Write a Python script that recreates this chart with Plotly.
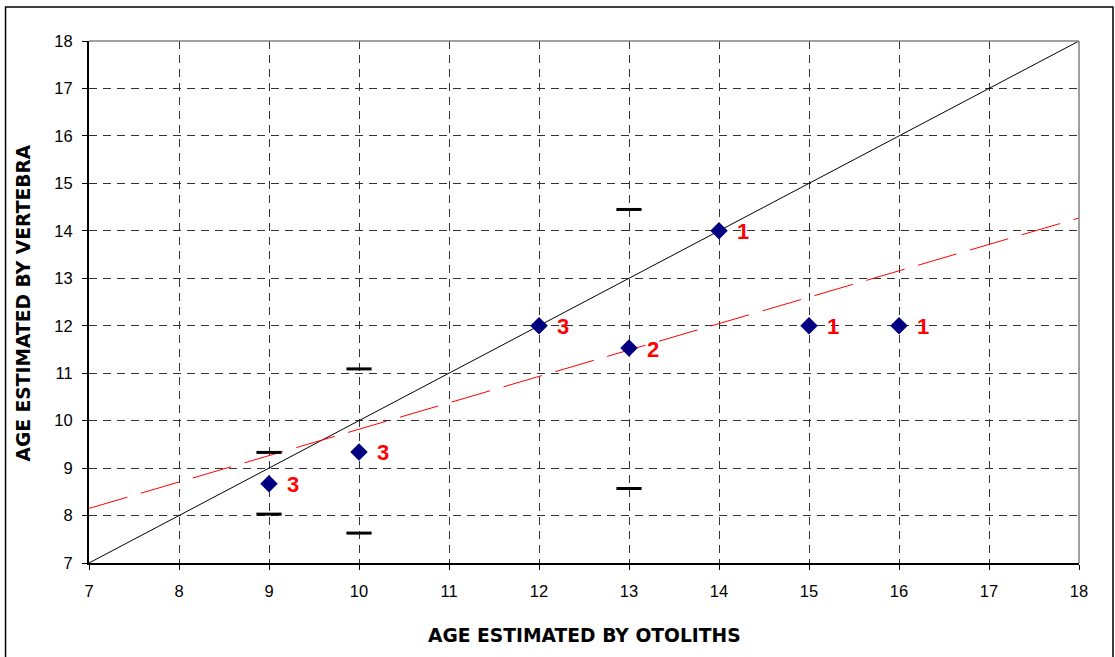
import plotly.graph_objects as go

# Data
oto_age = [9, 10, 12, 13, 14, 15, 16]
vert_age = [8.67, 9.34, 12.0, 11.53, 14.0, 12.0, 12.0]
n_labels = ["3", "3", "3", "2", "1", "1", "1"]

cap_x = [9, 9, 10, 10, 13, 13]
cap_y = [9.33, 8.03, 11.09, 7.63, 14.45, 8.57]

ident_x = [7, 18]
ident_y = [7, 18]

reg_x = [7, 18]
reg_y = [8.15, 14.27]

ticks = list(range(7, 19))

W, H = 1115, 657
L, R, T, B = 88.5, 36, 41, 94
pw, ph = W - L - R, H - T - B


def py(p):
    """pixel y -> paper y"""
    return (T + ph - p) / ph


def px(p):
    """pixel x -> paper x"""
    return (p - L) / pw


fig = go.Figure()

fig.add_trace(go.Scatter(x=ident_x, y=ident_y, mode="lines",
                         line=dict(color="black", width=1), showlegend=False, hoverinfo="skip"))
fig.add_trace(go.Scatter(x=reg_x, y=reg_y, mode="lines",
                         line=dict(color="#ff0000", width=1, dash="40px,14px"), showlegend=False,
                         hoverinfo="skip"))
fig.add_trace(go.Scatter(x=cap_x, y=cap_y, mode="markers",
                         marker=dict(symbol="line-ew", size=18, line=dict(color="black", width=3)),
                         showlegend=False))
fig.add_trace(go.Scatter(x=oto_age, y=vert_age, mode="markers",
                         marker=dict(symbol="diamond", size=13.5, color="#000080",
                                     line=dict(width=0)),
                         showlegend=False))

for xv, yv, t in zip(oto_age, vert_age, n_labels):
    fig.add_annotation(x=xv, y=yv, text=t, showarrow=False, xanchor="left", xshift=16, yshift=-1,
                       font=dict(family="Liberation Sans, Arial", size=22, color="#ff0000",
                                 weight="bold"))

axis_common = dict(range=[7, 18], tickvals=ticks, showgrid=True, gridcolor="#333333",
                   griddash="8px,6px", gridwidth=1, zeroline=False, showline=True,
                   linecolor="black", linewidth=2, ticks="outside", ticklen=5,
                   tickcolor="black", tickwidth=1,
                   tickfont=dict(family="Liberation Sans, Arial", size=16.5, color="black"))

fig.update_xaxes(**axis_common, ticklabelstandoff=7)
fig.update_yaxes(**axis_common, ticklabelstandoff=6)

# top and right gray border of plot area
fig.add_shape(type="line", xref="paper", yref="paper", x0=0, x1=1, y0=1, y1=1,
              line=dict(color="#808080", width=1.5))
fig.add_shape(type="line", xref="paper", yref="paper", x0=1, x1=1, y0=0, y1=1,
              line=dict(color="#808080", width=1.5))

# outer chart border
fig.add_shape(type="rect", xref="paper", yref="paper",
              x0=px(5), x1=px(1113), y0=py(670), y1=py(7),
              line=dict(color="black", width=1.5), fillcolor="rgba(0,0,0,0)", layer="below")

# axis titles
title_font = dict(family="DejaVu Sans", size=18.7, color="black", weight="bold")
fig.add_annotation(xref="paper", yref="paper", x=0.5, y=py(635),
                   text="AGE ESTIMATED BY OTOLITHS", showarrow=False, xanchor="center",
                   yanchor="middle", font=title_font)
fig.add_annotation(xref="paper", yref="paper", x=px(22.5), y=py(464),
                   text="AGE ESTIMATED BY VERTEBRA", showarrow=False, textangle=-90,
                   xanchor="center", yanchor="bottom", font=title_font)

fig.update_layout(width=W, height=H, margin=dict(l=L, r=R, t=T, b=B),
                  plot_bgcolor="white", paper_bgcolor="white")

fig.write_html("out.html")
